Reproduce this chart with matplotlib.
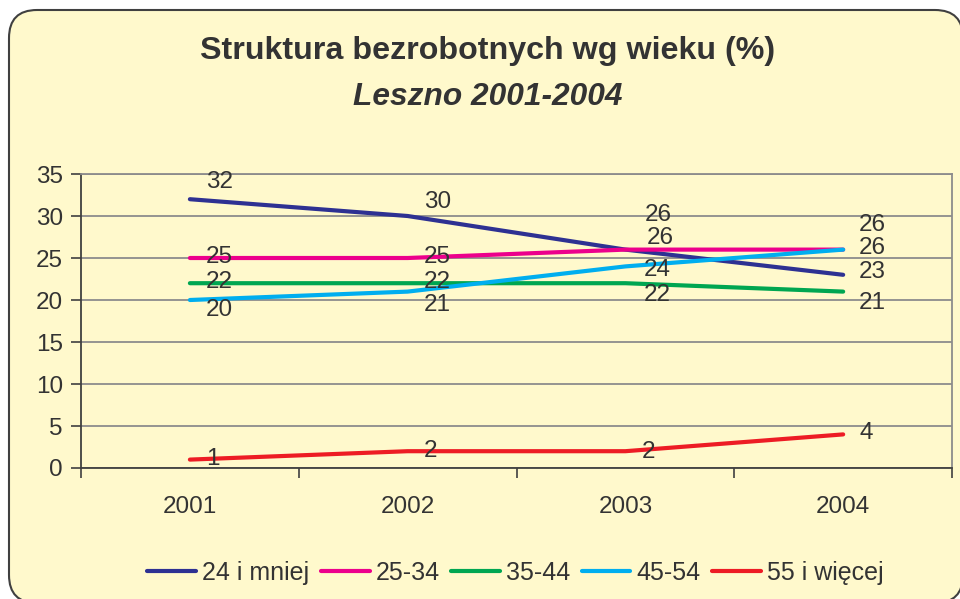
"""
Wykres liniowy: Struktura bezrobotnych wg wieku (%), Leszno 2001-2004
"""
import matplotlib
matplotlib.use("Agg")
import matplotlib.pyplot as plt
from matplotlib.patches import FancyBboxPatch
import numpy as np

YEARS = ["2001", "2002", "2003", "2004"]
SERIES = ["24 i mniej", "25-34", "35-44", "45-54", "55 i więcej"]

AGE_24 = [32, 30, 26, 23]
AGE_25_34 = [25, 25, 26, 26]
AGE_35_44 = [22, 22, 22, 21]
AGE_45_54 = [20, 21, 24, 26]
AGE_55 = [1, 2, 2, 4]

COLORS = ["#2E3192", "#EC008C", "#00A651", "#00AEEF", "#ED1C24"]
BG = "#FFF9CC"
TXT = "#333333"

# label offsets in pixels (dx, dy) per series, per year
LABEL_OFF = [
    [(16, 17), (16, 14), (19, 35), (16, 3)],
    [(16, 1), (16, 1), (21, 12), (16, 25)],
    [(16, 1), (16, 1), (18, -12), (16, -11)],
    [(16, -10), (16, -13), (18, -4), (16, 2)],
    [(16, 1), (16, 0), (16, -1), (16, 1)],
]


def main() -> None:
    plt.rcParams["font.family"] = ["Liberation Sans", "DejaVu Sans"]
    fig = plt.figure(figsize=(9.6, 5.99), dpi=100, facecolor="white")

    frame = FancyBboxPatch(
        (0.09, -0.04), 9.54, 5.93,
        boxstyle="round,pad=0,rounding_size=0.28",
        transform=fig.dpi_scale_trans,
        facecolor=BG, edgecolor="#404040", linewidth=1.5, zorder=-5,
    )
    fig.patches.append(frame)

    fig.text(0.508, 0.915, "Struktura bezrobotnych wg wieku (%)",
             ha="center", va="center", fontsize=23.2, fontweight="bold", color=TXT)
    fig.text(0.508, 0.838, "Leszno 2001-2004",
             ha="center", va="center", fontsize=22.8, fontweight="bold",
             fontstyle="italic", color=TXT)

    ax = fig.add_axes([0.0844, 0.2187, 0.9073, 0.4908])
    ax.set_zorder(2)
    ax.set_facecolor("none")

    x = np.arange(len(YEARS))
    data = [AGE_24, AGE_25_34, AGE_35_44, AGE_45_54, AGE_55]
    for vals, name, col, offs in zip(data, SERIES, COLORS, LABEL_OFF):
        ax.plot(x, vals, color=col, linewidth=3, solid_capstyle="round",
                label=name, zorder=3)
        for xi, v, (dx, dy) in zip(x, vals, offs):
            ax.annotate(str(v), (xi, v), xytext=(dx, dy),
                        textcoords="offset pixels", ha="left", va="center",
                        fontsize=17.5, color=TXT, zorder=4)

    ax.set_xlim(-0.5, len(YEARS) - 0.5)
    ax.set_ylim(0, 35)
    ax.set_yticks(np.arange(0, 36, 5))
    ax.set_xticks(x)
    ax.set_xticklabels(YEARS)
    ax.set_xticks(np.arange(-0.5, len(YEARS), 1.0), minor=True)
    ax.tick_params(axis="x", which="major", length=0, pad=20,
                   labelsize=17.5, labelcolor=TXT)
    ax.tick_params(axis="x", which="minor", length=7, width=1.2, color="#404040")
    ax.tick_params(axis="y", length=7, width=1.2, color="#404040",
                   labelsize=17.5, labelcolor=TXT, pad=6)

    ax.grid(axis="y", color="#8C8C8C", linewidth=1.3, zorder=1)
    ax.set_axisbelow(True)
    for side in ["left", "bottom"]:
        ax.spines[side].set_color("#404040")
        ax.spines[side].set_linewidth(1.3)
    for side in ["top", "right"]:
        ax.spines[side].set_color("#8C8C8C")
        ax.spines[side].set_linewidth(1.3)

    leg = fig.legend(loc="center", bbox_to_anchor=(0.537, 0.044), ncol=5,
                     frameon=False, fontsize=18, handlelength=1.95,
                     handletextpad=0.25, columnspacing=0.45, labelcolor=TXT)
    leg.set_zorder(3)

    fig.savefig("out.png", dpi=100, facecolor="white")
    plt.close(fig)


if __name__ == "__main__":
    main()
